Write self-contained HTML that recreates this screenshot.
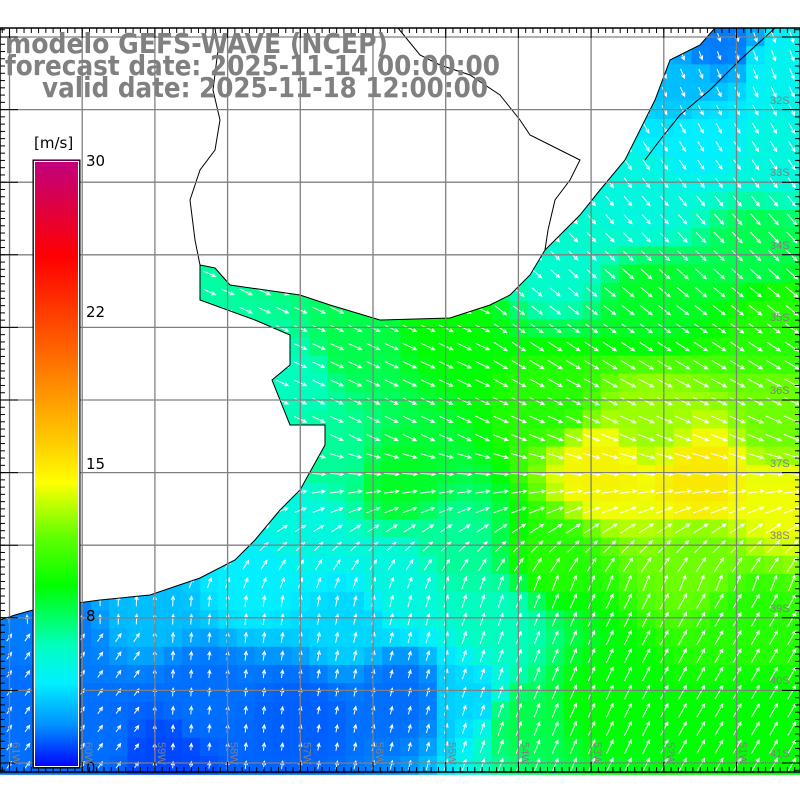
<!DOCTYPE html>
<html><head><meta charset="utf-8"><style>
html,body{margin:0;padding:0;background:#fff;}
svg{display:block;}
</style></head><body>
<svg id="s" width="800" height="800" xmlns="http://www.w3.org/2000/svg" font-family="Liberation Sans, sans-serif">
<defs>
<linearGradient id="cb" x1="0" y1="0" x2="0" y2="1">
<stop offset="0" stop-color="#c0007f"/>
<stop offset="0.16" stop-color="#ff0000"/>
<stop offset="0.33" stop-color="#ff7000"/>
<stop offset="0.47" stop-color="#ffd000"/>
<stop offset="0.53" stop-color="#ffff00"/>
<stop offset="0.62" stop-color="#60ff00"/>
<stop offset="0.7" stop-color="#00ff00"/>
<stop offset="0.8" stop-color="#00ffc0"/>
<stop offset="0.86" stop-color="#00f0ff"/>
<stop offset="0.93" stop-color="#0090ff"/>
<stop offset="1" stop-color="#0000ff"/>
</linearGradient>
</defs>
<g id="cells"></g>
<g id="arrows" stroke="#fff" stroke-width="1" fill="none"></g>
<polygon id="land" fill="#fff" stroke="#000" stroke-width="1" points="0,28 715,28 700,45 670,60 655,100 640,130 625,160 600,190 580,215 565,230 545,250 530,275 510,295 490,305 450,318 380,320 330,305 300,295 230,285 215,268 200,265 200,300 255,320 290,335 290,365 272,380 290,425 325,425 325,445 300,490 280,510 255,540 235,560 200,578 150,595 100,600 40,608 15,615 0,620"/>
<polyline fill="none" stroke="#000" stroke-width="1" points="200,265 195,240 190,200 200,170 215,150 220,120 213,90 218,50 215,28"/>
<polyline fill="none" stroke="#000" stroke-width="1" points="398,28 420,55 440,65 470,75 500,95 520,120 530,135 560,150 580,160 570,180 555,200 548,230 545,250"/>
<polyline fill="none" stroke="#000" stroke-width="1" points="775,28 740,60 710,90 680,115 660,140 645,160"/>
<g id="grid" stroke="#808080" stroke-width="1.3"></g>
<g id="ticks" stroke="#000" stroke-width="1"></g>
<rect x="0" y="28" width="800" height="744" fill="none" stroke="#000" stroke-width="1.5"/>
<rect x="33" y="160" width="47" height="608" fill="url(#cb)" stroke="#000" stroke-width="1"/>
<rect x="34.5" y="161.5" width="44" height="605" fill="none" stroke="#fff" stroke-width="1"/>
<g font-size="15" fill="#000" font-family="DejaVu Sans, sans-serif">
<text x="34" y="148">[m/s]</text>
<text x="86" y="166">30</text>
<text x="86" y="317">22</text>
<text x="86" y="469">15</text>
<text x="86" y="621">8</text>
<text x="86" y="773">0</text>
</g>
<g font-size="28" font-weight="bold" fill="#808080" font-family="DejaVu Sans Condensed, DejaVu Sans, sans-serif">
<text x="5" y="53" textLength="383" lengthAdjust="spacingAndGlyphs">modelo GEFS-WAVE (NCEP)</text>
<text x="5" y="75" textLength="495" lengthAdjust="spacingAndGlyphs">forecast date: 2025-11-14 00:00:00</text>
<text x="42" y="97" textLength="446" lengthAdjust="spacingAndGlyphs">valid date: 2025-11-18 12:00:00</text>
</g>
<g id="lbl" font-size="11" fill="#808080"></g>
</svg>
<script>
(function(){
var NS="http://www.w3.org/2000/svg";
function el(p,t,a){var e=document.createElementNS(NS,t);for(var k in a)e.setAttribute(k,a[k]);p.appendChild(e);return e;}
var A=[[720,40,5.5],[780,70,8.5],[690,90,7],[700,130,8],[780,150,9],[640,200,9],[760,250,11.5],[560,260,9.5],[650,300,12],[780,320,13],[450,330,12.5],[350,350,11.5],[300,380,10],[550,400,13],[650,420,14.5],[780,420,14],[600,470,16],[700,480,16.5],[780,500,15.5],[400,480,12],[330,460,10.5],[300,520,9],[450,550,10.5],[400,580,9],[550,560,13],[700,560,14],[250,580,8],[150,610,7],[50,640,5.5],[200,700,5],[300,720,4.5],[400,700,5],[470,700,7.5],[520,720,11.5],[600,700,12.5],[750,720,12.5],[750,620,13],[500,620,10],[350,620,7.5],[100,740,5],[20,700,5],[160,760,3.5]];
function val(x,y){var s=0,w=0;for(var i=0;i<A.length;i++){var dx=x-A[i][0],dy=y-A[i][1];var d=dx*dx+dy*dy+1;var ww=1/(d*d);s+=ww*A[i][2];w+=ww;}return s/w;}
var C=[[0,[0,0,255]],[4,[0,80,255]],[6,[0,140,255]],[8,[0,240,255]],[10,[0,255,190]],[12.5,[0,255,0]],[14,[110,255,0]],[15.5,[240,255,0]],[17,[255,220,0]],[22,[255,80,0]],[25,[255,0,0]],[30,[192,0,127]]];
function col(v){for(var i=1;i<C.length;i++){if(v<=C[i][0]){var a=C[i-1],b=C[i],t=(v-a[0])/(b[0]-a[0]);var r=[0,1,2].map(function(k){return Math.round(a[1][k]+t*(b[1][k]-a[1][k]));});return "rgb("+r.join(",")+")";}}return "rgb(192,0,127)";}
var cells=document.getElementById("cells"),arr=document.getElementById("arrows");
var cs=18.2;
for(var y=28;y<772;y+=cs){for(var x=0;x<800;x+=cs){
var cx=x+cs/2,cy=y+cs/2,v=val(cx,cy);
el(cells,"rect",{x:x.toFixed(1),y:y.toFixed(1),width:(cs+0.6).toFixed(1),height:(cs+0.6).toFixed(1),fill:col(v)});
var ang;
if(cy<450)ang=20+ (cx>500?Math.max(0,(450-cy)/8):5);
else if(cy<600)ang=20-(cy-450)/150*100;
else ang=-80+Math.min(20,(cx-300)/20);
if(cy>620&&cx<150)ang=-55;
var L=Math.min(17,3+v*1.0),r=ang*Math.PI/180;
var dx=Math.cos(r)*L,dy=Math.sin(r)*L;
var x0=cx-dx/2,y0=cy-dy/2,x1=cx+dx/2,y1=cy+dy/2;
var h=4,a1=r+Math.PI-0.45,a2=r+Math.PI+0.45;
el(arr,"path",{d:"M"+x0.toFixed(1)+","+y0.toFixed(1)+"L"+x1.toFixed(1)+","+y1.toFixed(1)+"M"+(x1+Math.cos(a1)*h).toFixed(1)+","+(y1+Math.sin(a1)*h).toFixed(1)+"L"+x1.toFixed(1)+","+y1.toFixed(1)+"L"+(x1+Math.cos(a2)*h).toFixed(1)+","+(y1+Math.sin(a2)*h).toFixed(1)});
}}
var g=document.getElementById("grid");
var xs=[],ys=[];
for(var i=0;i<11;i++)xs.push(9.5+72.7*i);
for(var j=0;j<11;j++)ys.push(37+72.6*j);
xs.forEach(function(x){if(x>0&&x<800)el(g,"line",{x1:x,y1:28,x2:x,y2:772});});
ys.forEach(function(y){if(y>28&&y<772)el(g,"line",{x1:0,y1:y,x2:800,y2:y});});
var t=document.getElementById("ticks");
for(var x=9.5-72.7;x<800;x+=72.7/10){if(x<0)continue;el(t,"line",{x1:x,y1:28,x2:x,y2:33});el(t,"line",{x1:x,y1:772,x2:x,y2:767});}
for(var y=37-72.6;y<772;y+=72.6/10){if(y<28)continue;el(t,"line",{x1:0,y1:y,x2:5,y2:y});el(t,"line",{x1:800,y1:y,x2:795,y2:y});}
xs.forEach(function(x){el(t,"line",{x1:x,y1:28,x2:x,y2:38});el(t,"line",{x1:x,y1:772,x2:x,y2:762});});
ys.forEach(function(y){el(t,"line",{x1:0,y1:y,x2:18,y2:y});el(t,"line",{x1:800,y1:y,x2:782,y2:y});});
var lb=document.getElementById("lbl");
var lats=["32S","33S","34S","35S","36S","37S","38S","39S","40S","41S"];
for(var k=0;k<10;k++){var tt=el(lb,"text",{x:770,y:(ys[k+1]-6).toFixed(0)});tt.textContent=lats[k];}
var lons=["61W","60W","59W","58W","57W","56W","55W","54W","53W","52W","51W"];
for(var k=0;k<11;k++){var xx=xs[k]+3,yy=742;var tt=el(lb,"text",{x:xx,y:yy,transform:"rotate(90 "+xx+" "+yy+")"});tt.textContent=lons[k];}
})();
</script>
</body></html>
